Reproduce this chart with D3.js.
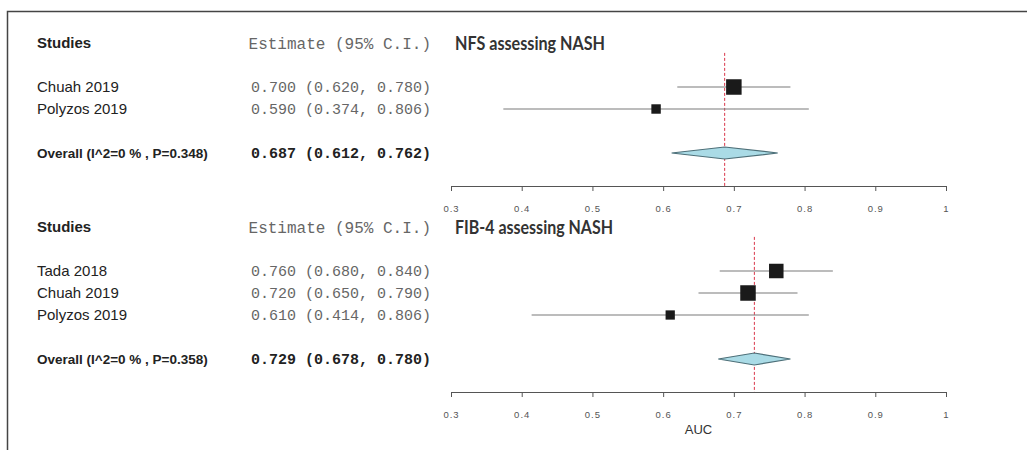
<!DOCTYPE html>
<html>
<head>
<meta charset="utf-8">
<script src="https://cdn.jsdelivr.net/npm/d3@7"></script>
<style>
  body { margin: 0; background: #fff; }
  svg { display: block; }
</style>
</head>
<body>
<div id="forest"></div>
<script>
// data - NFS panel
var nfsTitle = "NFS assessing NASH";
var nfsStudies = ["Chuah 2019", "Polyzos 2019"];
var nfsEst = [0.700, 0.590];
var nfsLo = [0.620, 0.374];
var nfsHi = [0.780, 0.806];
var nfsOverall = [0.687, 0.612, 0.762];
var nfsHet = "Overall (I^2=0 % , P=0.348)";

// data - FIB-4 panel
var fibTitle = "FIB-4 assessing NASH";
var fibStudies = ["Tada 2018", "Chuah 2019", "Polyzos 2019"];
var fibEst = [0.760, 0.720, 0.610];
var fibLo = [0.680, 0.650, 0.414];
var fibHi = [0.840, 0.790, 0.806];
var fibOverall = [0.729, 0.678, 0.780];
var fibHet = "Overall (I^2=0 % , P=0.358)";

var tickValues = [0.3, 0.4, 0.5, 0.6, 0.7, 0.8, 0.9, 1];
var xLabel = "AUC";

var width = 1034, height = 450;

var svg = d3.select("#forest")
  .append("svg")
  .attr("width", width)
  .attr("height", height);

// frame (top and left edge only)
svg.append("path")
  .attr("d", "M7.5,450 L7.5,11.5 L1027,11.5")
  .attr("fill", "none")
  .attr("stroke", "#444")
  .attr("stroke-width", 1.5);

var x = d3.scaleLinear().domain([0.3, 1]).range([451, 946]);

var fmt = d3.format(".3f");
function ciText(e, l, h) {
  return fmt(e) + " (" + fmt(l) + ", " + fmt(h) + ")";
}

function drawPanel(top, title, titleW, studies, est, lo, hi, overall, het, showLabel) {
  var nRows = studies.length;
  // row 0 = header, studies from row 2, overall 2 rows after last study
  var overallRow = nRows + 3;
  var axisRow = overallRow + 1.5;
  var y = d3.scaleLinear().domain([0, 1]).range([top, top + 22]);

  var g = svg.append("g");

  // header
  g.append("text").attr("x", 37).attr("y", y(0))
    .attr("dy", "0.35em")
    .style("font", "bold 15px 'Liberation Sans', Arial, sans-serif")
    .attr("fill", "#222")
    .text("Studies");
  g.append("text").attr("x", 431).attr("y", y(0))
    .attr("dy", "0.35em")
    .attr("text-anchor", "end")
    .style("font", "16px 'Liberation Mono', monospace")
    .attr("fill", "#666")
    .text("Estimate (95% C.I.)");
  g.append("text").attr("x", 455).attr("y", y(0))
    .attr("dy", "0.35em")
    .attr("textLength", titleW)
    .attr("lengthAdjust", "spacingAndGlyphs")
    .style("font", "bold 19px Lato, 'Liberation Sans', sans-serif")
    .attr("fill", "#333")
    .text(title);

  // reference line at the pooled estimate
  g.append("line")
    .attr("x1", x(overall[0])).attr("x2", x(overall[0]))
    .attr("y1", y(0.45)).attr("y2", y(axisRow))
    .attr("stroke", "#d9364a")
    .attr("stroke-width", 1)
    .attr("stroke-dasharray", "3,2");

  // square size from standard error (inverse variance weight)
  var se = studies.map(function(d, i) { return (hi[i] - lo[i]) / 3.92; });
  var seMin = d3.min(se);

  studies.forEach(function(s, i) {
    var yy = y(i + 2);
    g.append("text").attr("x", 37).attr("y", yy)
      .attr("dy", "0.35em")
      .style("font", "15px 'Liberation Sans', Arial, sans-serif")
      .attr("fill", "#222")
      .text(s);
    g.append("text").attr("x", 431).attr("y", yy)
      .attr("dy", "0.35em")
      .attr("text-anchor", "end")
      .style("font", "15px 'Liberation Mono', monospace")
      .attr("fill", "#666")
      .text(ciText(est[i], lo[i], hi[i]));
    g.append("line")
      .attr("x1", x(lo[i])).attr("x2", x(hi[i]))
      .attr("y1", yy).attr("y2", yy)
      .attr("stroke", "#7a7a7a")
      .attr("stroke-width", 1.2);
    var side = 15.5 * Math.sqrt(seMin / se[i]);
    g.append("rect")
      .attr("x", x(est[i]) - side / 2)
      .attr("y", yy - side / 2)
      .attr("width", side).attr("height", side)
      .attr("fill", "#1a1a1a");
  });

  // overall row
  var yo = y(overallRow);
  g.append("text").attr("x", 37).attr("y", yo)
    .attr("dy", "0.35em")
    .style("font", "bold 13.5px 'Liberation Sans', Arial, sans-serif")
    .attr("fill", "#222")
    .text(het);
  g.append("text").attr("x", 431).attr("y", yo)
    .attr("dy", "0.35em")
    .attr("text-anchor", "end")
    .style("font", "bold 15px 'Liberation Mono', monospace")
    .attr("fill", "#222")
    .text(ciText(overall[0], overall[1], overall[2]));
  g.append("path")
    .attr("d", "M" + x(overall[1]) + "," + yo +
      " L" + x(overall[0]) + "," + (yo - 6) +
      " L" + x(overall[2]) + "," + yo +
      " L" + x(overall[0]) + "," + (yo + 6) + " Z")
    .attr("fill", "#aadbe6")
    .attr("stroke", "#4d6f78")
    .attr("stroke-width", 1.2);

  // axis
  var ax = g.append("g")
    .attr("transform", "translate(0," + y(axisRow) + ")")
    .call(d3.axisBottom(x)
      .tickValues(tickValues)
      .tickSize(5)
      .tickSizeOuter(5)
      .tickPadding(14)
      .tickFormat(function(d) { return d === 1 ? "1" : d.toFixed(1); }));
  ax.select(".domain").attr("stroke", "#555");
  ax.selectAll(".tick line").attr("stroke", "#555");
  ax.selectAll(".tick text")
    .style("font", "9.5px 'Liberation Sans', Arial, sans-serif")
    .style("letter-spacing", "1px")
    .attr("fill", "#555");

  if (showLabel) {
    g.append("text")
      .attr("x", (x.range()[0] + x.range()[1]) / 2)
      .attr("y", y(axisRow) + 37)
      .attr("dy", "0.35em")
      .attr("text-anchor", "middle")
      .style("font", "13px 'Liberation Sans', Arial, sans-serif")
      .attr("fill", "#333")
      .text(xLabel);
  }
}

drawPanel(43, nfsTitle, 150, nfsStudies, nfsEst, nfsLo, nfsHi, nfsOverall, nfsHet, false);
drawPanel(227, fibTitle, 158, fibStudies, fibEst, fibLo, fibHi, fibOverall, fibHet, true);
</script>
</body>
</html>
